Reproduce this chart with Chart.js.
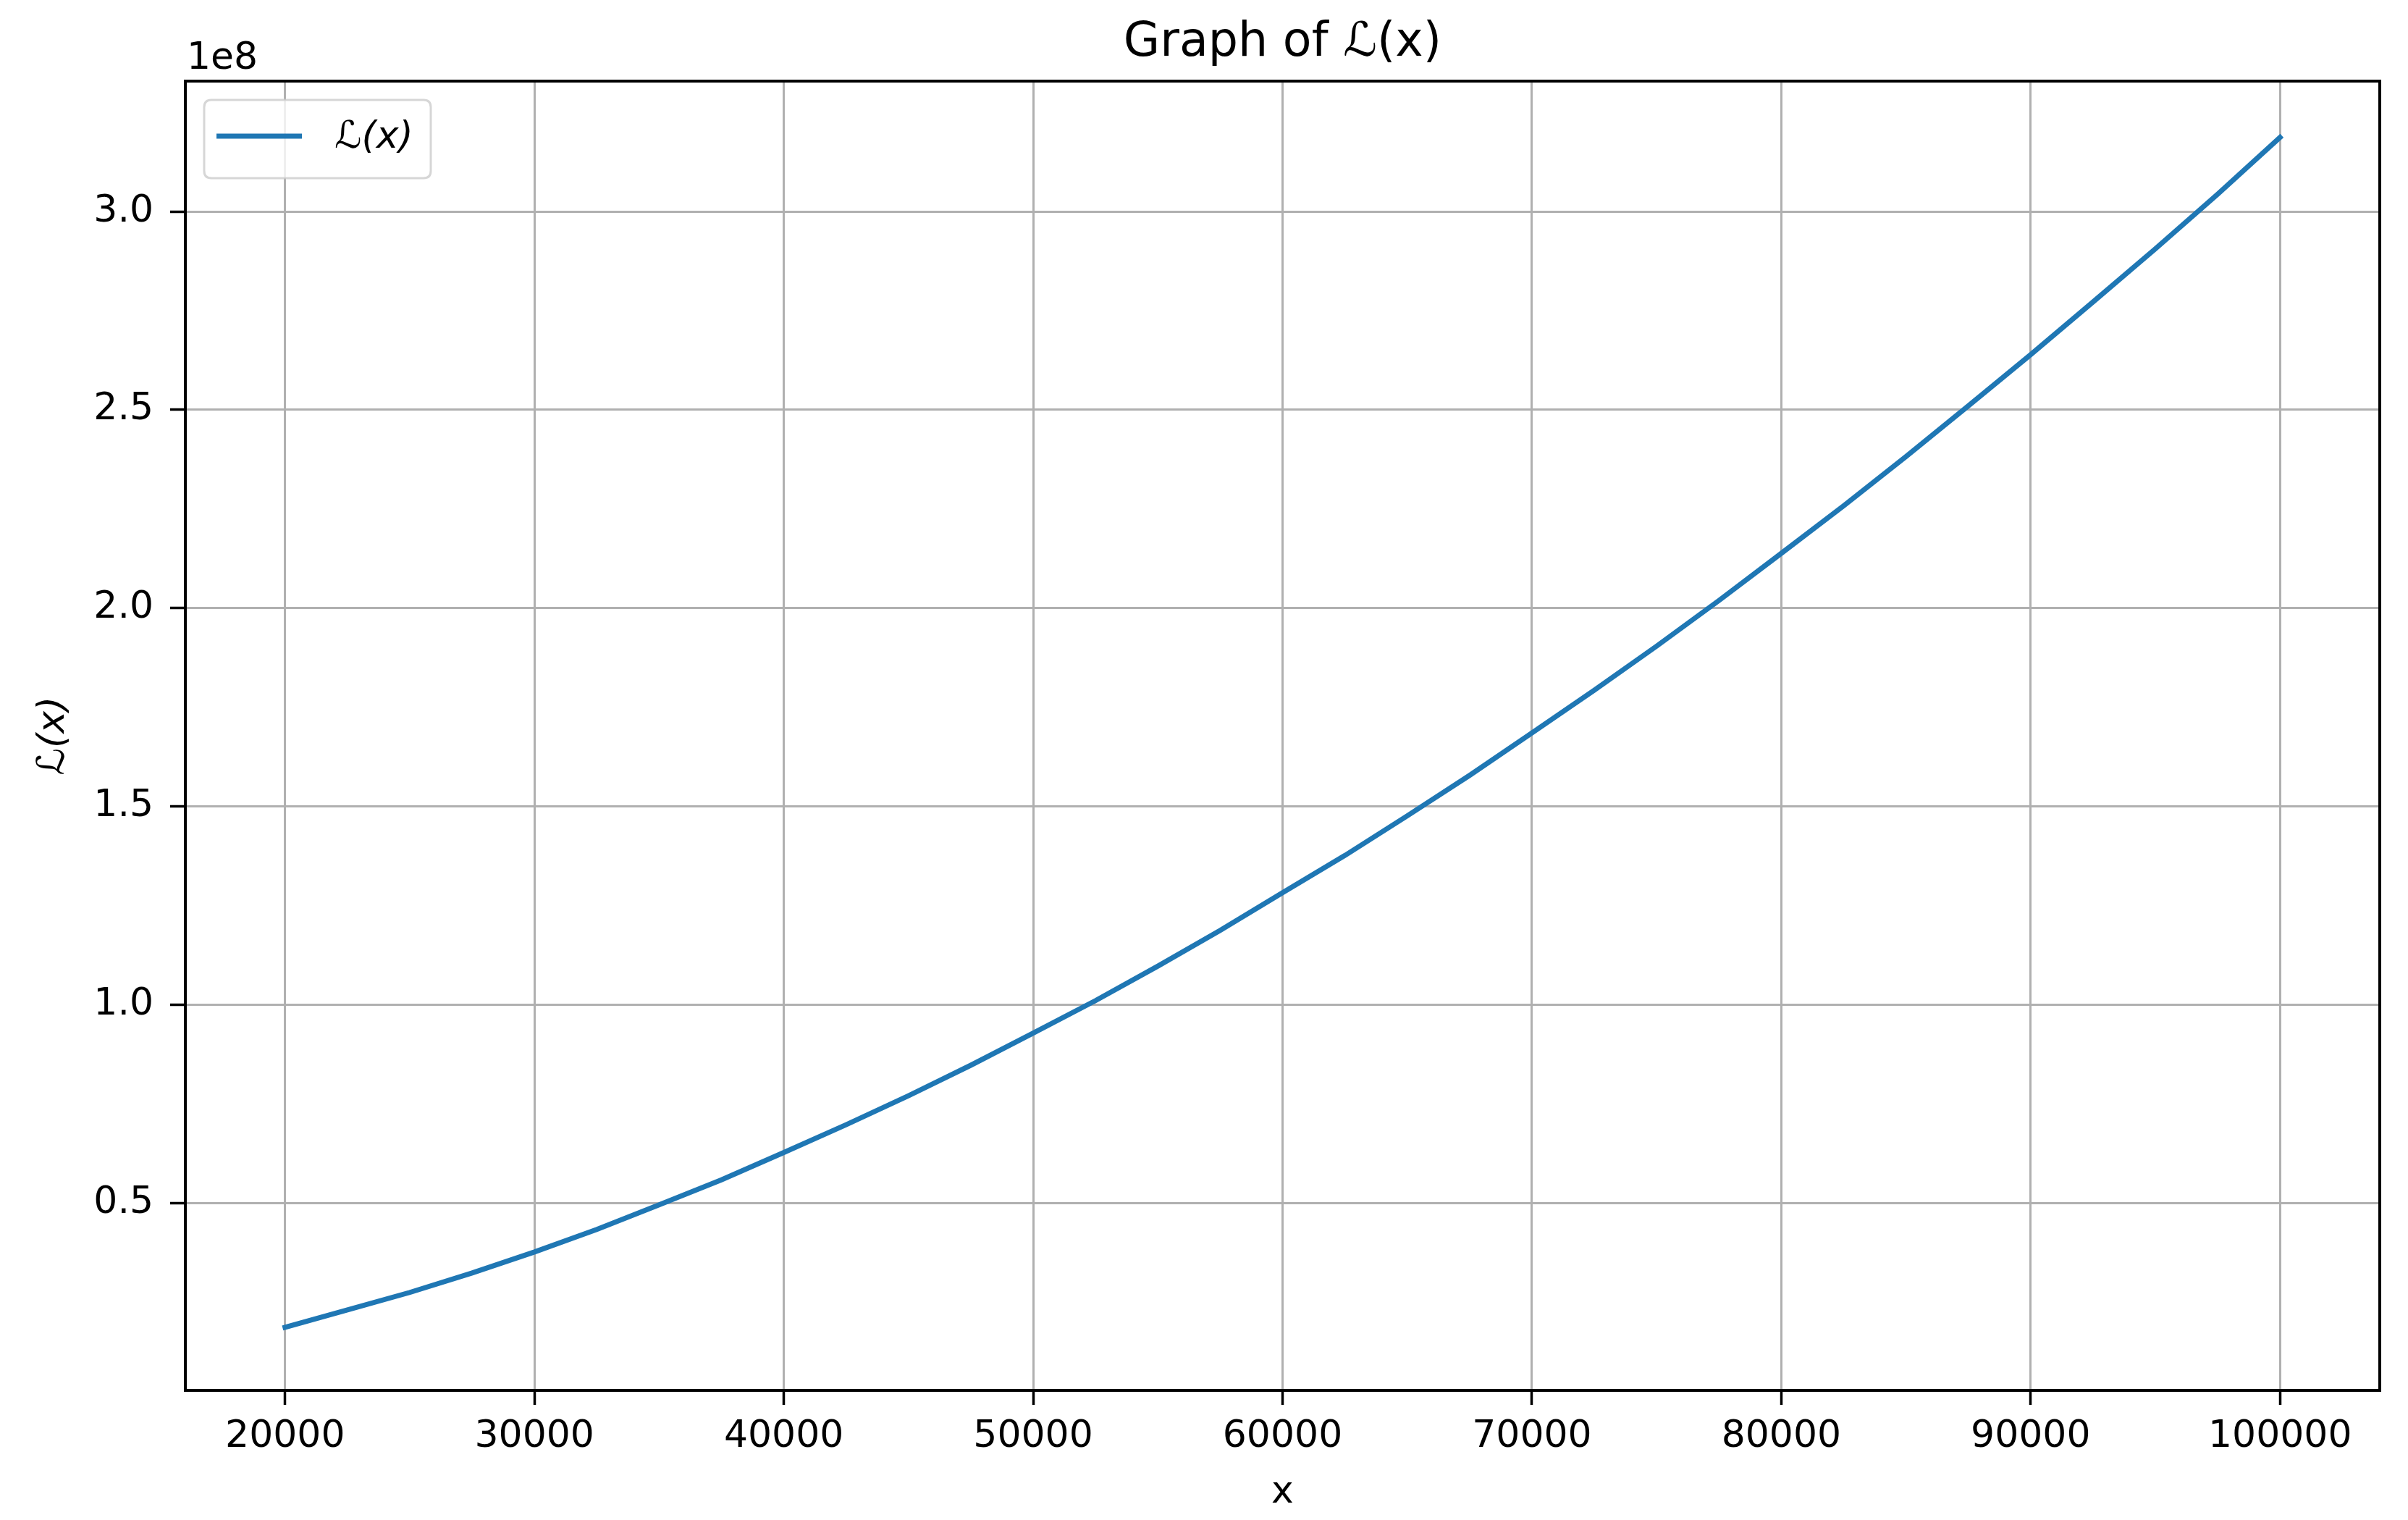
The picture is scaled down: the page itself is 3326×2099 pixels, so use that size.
<!DOCTYPE html>
<html>
<head>
<meta charset="utf-8">
<script src="https://cdn.jsdelivr.net/npm/chart.js@4.4.1/dist/chart.umd.min.js"></script>
<style>
  html, body { margin: 0; padding: 0; background: #ffffff; }
  #wrap { width: 3326px; height: 2099px; position: relative; }
</style>
</head>
<body>
<div id="wrap"><canvas id="c" width="3326" height="2099"></canvas></div>
<script>
// ---- data ----
const xValues = [20000, 22500, 25000, 27500, 30000, 32500, 35000, 37500, 40000, 42500,
                 45000, 47500, 50000, 52500, 55000, 57500, 60000, 62500, 65000, 67500,
                 70000, 72500, 75000, 77500, 80000, 82500, 85000, 87500, 90000, 92500,
                 95000, 97500, 100000];
const lValues = [18600000, 23000000, 27400000, 32300000, 37600000, 43300000, 49500000, 55800000,
                 62700000, 69700000, 77000000, 84700000, 92800000, 101000000, 109700000, 118700000,
                 128200000, 137600000, 147600000, 157800000, 168500000, 179300000, 190400000,
                 201900000, 213800000, 225800000, 238200000, 251000000, 263900000, 277200000,
                 290600000, 304400000, 318700000];
const seriesLabel = 'ℒ(x)';
const chartTitle = 'Graph of ℒ(x)';
const xAxisTitle = 'x';
const yAxisTitle = 'ℒ(x)';
const xTickValues = [20000, 30000, 40000, 50000, 60000, 70000, 80000, 90000, 100000];
const yTickValues = [50000000, 100000000, 150000000, 200000000, 250000000, 300000000];
const yScaleFactor = 1e8;
const yScaleLabel = '1e8';

const FONT = 'DejaVu Sans';
const BLUE = '#1f77b4';

const framePlugin = {
  id: 'frameAndLegend',
  afterDraw(chart) {
    const ctx = chart.ctx;
    const a = chart.chartArea;
    ctx.save();
    // top & right spines
    ctx.strokeStyle = '#000000';
    ctx.lineWidth = 4;
    ctx.lineCap = 'square';
    ctx.beginPath();
    ctx.moveTo(a.left, a.top);
    ctx.lineTo(a.right, a.top);
    ctx.lineTo(a.right, a.bottom);
    ctx.stroke();
    // offset text
    ctx.fillStyle = '#000000';
    ctx.font = '52px "' + FONT + '"';
    ctx.textAlign = 'left';
    ctx.textBaseline = 'alphabetic';
    ctx.fillText(yScaleLabel, a.left + 2, 95);
    // legend box
    const bx = a.left + 26, by = a.top + 26, bw = 313, bh = 108, r = 10;
    ctx.beginPath();
    ctx.moveTo(bx + r, by);
    ctx.lineTo(bx + bw - r, by);
    ctx.quadraticCurveTo(bx + bw, by, bx + bw, by + r);
    ctx.lineTo(bx + bw, by + bh - r);
    ctx.quadraticCurveTo(bx + bw, by + bh, bx + bw - r, by + bh);
    ctx.lineTo(bx + r, by + bh);
    ctx.quadraticCurveTo(bx, by + bh, bx, by + bh - r);
    ctx.lineTo(bx, by + r);
    ctx.quadraticCurveTo(bx, by, bx + r, by);
    ctx.closePath();
    ctx.fillStyle = 'rgba(255,255,255,0.8)';
    ctx.fill();
    ctx.strokeStyle = 'rgba(204,204,204,0.8)';
    ctx.lineWidth = 3;
    ctx.stroke();
    // legend line
    ctx.strokeStyle = BLUE;
    ctx.lineWidth = 7;
    ctx.lineCap = 'butt';
    ctx.beginPath();
    ctx.moveTo(bx + 17, by + 50);
    ctx.lineTo(bx + 135, by + 50);
    ctx.stroke();
    // legend text
    ctx.fillStyle = '#000000';
    ctx.font = 'italic 52px "' + FONT + '"';
    ctx.textBaseline = 'middle';
    ctx.fillText(chart.data.datasets[0].label, bx + 180, by + 52);
    ctx.restore();
  }
};

new Chart(document.getElementById('c'), {
  type: 'line',
  data: {
    datasets: [{
      label: seriesLabel,
      data: xValues.map((x, i) => ({ x: x, y: lValues[i] })),
      borderColor: BLUE,
      backgroundColor: BLUE,
      borderWidth: 7,
      pointRadius: 0,
      pointHoverRadius: 0,
      tension: 0,
      fill: false,
      borderCapStyle: 'square'
    }]
  },
  options: {
    responsive: false,
    animation: false,
    devicePixelRatio: 1,
    layout: { padding: { left: 0, right: 39, top: 0, bottom: 0 } },
    plugins: {
      legend: { display: false },
      tooltip: { enabled: false },
      title: {
        display: true,
        fullSize: false,
        text: chartTitle,
        color: '#000000',
        font: { family: FONT, size: 65, weight: 'normal', lineHeight: 1.2 },
        padding: { top: 21, bottom: 13 }
      }
    },
    scales: {
      x: {
        type: 'linear',
        min: 16000,
        max: 104000,
        afterBuildTicks: (s) => { s.ticks = xTickValues.map(v => ({ value: v })); },
        afterFit: (s) => { s.height = 179; s.paddingLeft = 0; s.paddingRight = 0; },
        ticks: {
          color: '#000000',
          font: { family: FONT, size: 52, lineHeight: 1.2 },
          padding: 13,
          maxRotation: 0,
          autoSkip: false,
          callback: (v) => String(v)
        },
        grid: {
          color: '#b0b0b0',
          lineWidth: 3,
          tickColor: '#000000',
          tickLength: 20,
          tickWidth: 3.5,
          drawTicks: true
        },
        border: { display: true, color: '#000000', width: 4 },
        title: {
          display: true,
          text: xAxisTitle,
          color: '#000000',
          font: { family: FONT, size: 52, lineHeight: 1.2 },
          padding: { top: 0, bottom: 6 }
        }
      },
      y: {
        type: 'linear',
        min: 2700000,
        max: 332900000,
        afterBuildTicks: (s) => { s.ticks = yTickValues.map(v => ({ value: v })); },
        afterFit: (s) => { s.width = 256; s.paddingTop = 0; s.paddingBottom = 0; },
        ticks: {
          color: '#000000',
          font: { family: FONT, size: 52, lineHeight: 1.2 },
          padding: 23,
          autoSkip: false,
          callback: (v) => (v / yScaleFactor).toFixed(1)
        },
        grid: {
          color: '#b0b0b0',
          lineWidth: 3,
          tickColor: '#000000',
          tickLength: 21,
          tickWidth: 3.5,
          drawTicks: true
        },
        border: { display: true, color: '#000000', width: 4 },
        title: {
          display: true,
          text: yAxisTitle,
          color: '#000000',
          font: { family: FONT, size: 52, style: 'italic', lineHeight: 1.2 },
          padding: { top: 43, bottom: 0 }
        }
      }
    }
  },
  plugins: [framePlugin]
});
</script>
</body>
</html>
